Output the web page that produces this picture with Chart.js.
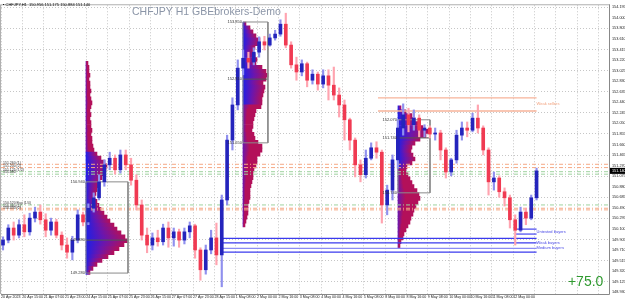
<!DOCTYPE html>
<html lang="en">
<head>
<meta charset="UTF-8">
<title>CHFJPY H1</title>
<script src="https://cdn.jsdelivr.net/npm/chart.js"></script>
<style>
  html, body { margin: 0; padding: 0; background: #fff; }
  #wrap { position: relative; width: 625px; height: 301px; }
  #wrap canvas { position: absolute; left: 0; top: 0; }
</style>
</head>
<body>
<div id="wrap">
  <canvas id="profileChart" width="625" height="301"></canvas>
  <canvas id="priceChart" width="625" height="301"></canvas>
</div>
<script>
  // ---- axis labels ----
  const xTickLabels = ['20 Apr 2023', '20 Apr 15:00', '21 Apr 07:00', '21 Apr 23:00', '24 Apr 15:00', '25 Apr 07:00',
    '25 Apr 23:00', '26 Apr 15:00', '27 Apr 07:00', '27 Apr 23:00', '28 Apr 15:00', '1 May 08:00', '2 May 00:00',
    '2 May 16:00', '3 May 08:00', '4 May 00:00', '4 May 16:00', '5 May 08:00', '8 May 00:00', '8 May 16:00',
    '9 May 08:00', '10 May 00:00', '10 May 16:00', '11 May 08:00', '12 May 00:00'];
  const yTickValues = [154.195, 154.000, 153.805, 153.610, 153.415, 153.220, 153.025, 152.830, 152.635, 152.440,
    152.245, 152.050, 151.855, 151.660, 151.465, 151.270, 151.075, 150.880, 150.685, 150.490, 150.295, 150.100,
    149.905, 149.710, 149.515, 149.320, 149.125, 148.930];

  // ---- price candles (each one covers 4 H1 bars) ----
  const opens = [149.79, 149.88, 150.10, 149.97, 150.16, 150.03, 150.28, 150.39, 150.25, 150.06,
    150.21, 149.97, 149.79, 149.66, 149.88, 150.34, 150.21, 150.46, 150.65, 150.94,
    151.25, 151.37, 151.16, 151.43, 151.25, 150.97, 150.52, 149.97, 149.79, 149.92,
    149.85, 150.10, 149.92, 150.03, 149.88, 150.03, 150.14, 149.70, 149.34, 149.70,
    149.92, 149.61, 150.61, 151.70, 152.34, 153.01, 153.19, 153.12, 153.30, 153.49,
    153.43, 153.56, 153.63, 153.81, 153.43, 153.07, 152.94, 153.09, 152.79, 152.90,
    152.72, 152.87, 152.70, 152.52, 152.34, 152.07, 151.70, 151.25, 151.07, 151.37,
    151.56, 151.48, 150.52, 150.79, 151.34, 151.92, 152.16, 151.98, 152.10, 151.88,
    151.92, 151.81, 151.83, 151.52, 151.12, 151.34, 151.79, 151.92, 151.88, 152.10,
    151.92, 151.52, 150.94, 151.01, 150.76, 150.65, 150.25, 150.06, 150.39, 150.28, 150.65];
  const highs = [149.94, 150.16, 150.21, 150.25, 150.34, 150.37, 150.48, 150.52, 150.36, 150.28,
    150.26, 150.03, 149.92, 149.95, 150.43, 150.39, 150.54, 150.74, 151.07, 151.34,
    151.48, 151.43, 151.52, 151.52, 151.37, 151.07, 150.61, 150.10, 150.01, 150.06,
    150.17, 150.21, 150.10, 150.08, 150.10, 150.21, 150.17, 149.74, 149.79, 150.06,
    150.19, 150.70, 151.79, 152.47, 153.16, 153.34, 153.30, 153.38, 153.58, 153.59,
    153.63, 153.70, 153.89, 154.01, 153.49, 153.21, 153.16, 153.12, 152.98, 152.94,
    152.98, 152.98, 153.03, 152.65, 152.43, 152.10, 151.74, 151.34, 151.52, 151.65,
    151.67, 151.52, 150.88, 151.43, 152.07, 152.36, 152.28, 152.25, 152.16, 151.98,
    151.96, 151.92, 151.88, 151.56, 151.37, 151.88, 152.03, 152.03, 152.19, 152.34,
    151.96, 151.56, 151.12, 151.05, 150.83, 150.70, 150.34, 150.48, 150.46, 150.70, 151.19];
  const lows = [149.70, 149.83, 149.88, 149.92, 149.94, 149.97, 150.21, 150.17, 149.94, 149.97,
    149.92, 149.70, 149.55, 149.52, 149.83, 150.14, 150.16, 150.39, 150.61, 150.86,
    151.16, 151.08, 151.10, 151.16, 150.88, 150.43, 149.88, 149.65, 149.70, 149.77,
    149.79, 149.75, 149.77, 149.75, 149.81, 149.92, 149.55, 149.15, 149.26, 149.63,
    149.43, 149.03, 150.52, 151.52, 152.25, 152.89, 153.01, 153.07, 153.21, 153.34,
    153.41, 153.52, 153.59, 153.38, 153.01, 152.79, 152.87, 152.67, 152.72, 152.61,
    152.65, 152.43, 152.43, 152.12, 151.70, 151.52, 151.03, 150.94, 151.01, 151.34,
    151.37, 150.19, 150.34, 150.61, 151.19, 151.79, 151.85, 151.88, 151.76, 151.76,
    151.74, 151.70, 151.34, 151.01, 151.05, 151.28, 151.70, 151.76, 151.85, 151.83,
    151.43, 150.70, 150.79, 150.66, 150.50, 150.10, 149.79, 150.03, 150.16, 150.25, 150.61];
  const closes = [149.88, 150.10, 149.97, 150.16, 150.03, 150.28, 150.39, 150.25, 150.06, 150.21,
    149.97, 149.79, 149.66, 149.88, 150.34, 150.21, 150.46, 150.65, 150.94, 151.25,
    151.37, 151.16, 151.43, 151.25, 150.97, 150.52, 149.97, 149.79, 149.92, 149.85,
    150.10, 149.92, 150.03, 149.88, 150.03, 150.14, 149.70, 149.34, 149.70, 149.92,
    149.61, 150.61, 151.70, 152.34, 153.01, 153.19, 153.12, 153.30, 153.49, 153.43,
    153.56, 153.63, 153.81, 153.43, 153.07, 152.94, 153.09, 152.79, 152.90, 152.72,
    152.87, 152.70, 152.52, 152.34, 152.07, 151.70, 151.25, 151.07, 151.37, 151.56,
    151.48, 150.52, 150.79, 151.34, 151.92, 152.16, 151.98, 152.10, 151.88, 151.92,
    151.81, 151.83, 151.52, 151.12, 151.34, 151.79, 151.92, 151.88, 152.10, 151.92,
    151.52, 150.94, 151.01, 150.76, 150.65, 150.25, 150.06, 150.39, 150.28, 150.65, 151.14];

  // ---- volume profiles: row widths (px), top row price, start bar ----
  const prof1Vol = [2, 3, 3, 4, 3, 4, 4, 5, 4, 5, 6, 5, 4, 5, 4, 5, 5, 6, 5, 6, 6, 7, 8, 11, 15, 19, 21, 20, 17, 16,
    14, 12, 11, 10, 9, 11, 13, 15, 18, 21, 24, 28, 31, 35, 39, 42, 38, 33, 28, 22, 16, 11, 7, 4];
  const prof2Vol = [3, 7, 10, 13, 17, 16, 12, 10, 12, 14, 13, 19, 23, 25, 23, 20, 22, 21, 20, 19, 19, 18, 13, 12, 11,
    10, 10, 9, 11, 12, 15, 19, 19, 17, 14, 14, 13, 11, 10, 10, 9, 8, 7, 7, 7, 6, 5, 5, 5, 4, 3, 2];
  const prof3Vol = [3, 8, 14, 17, 22, 25, 30, 28, 22, 17, 14, 13, 15, 17, 14, 9, 8, 10, 12, 14, 16, 19, 21, 22, 20,
    18, 16, 15, 13, 12, 10, 8, 6, 5, 3, 2];
  const profTops = [153.158, 153.886, 152.339];
  const profBases = [63.7, 181.4, 297.6];
  const profSplit = [151.50, 152.38, 151.22];     // buyers/sellers boundary
  const profUpperBuy = [false, true, true];
  const rowStep = 0.0728;

  // value area boxes
  const boxRight = [95.2, 200.1, 321.6];
  const boxTop = [150.94, 153.85, 152.07];
  const boxBottom = [149.28, 151.65, 150.74];
  const boxPoc = [149.88, 152.81, 151.74];

  // ---- level lines ----
  const levelPrices = [151.26, 151.20, 151.125, 151.08, 150.52, 150.46, 150.43];
  const levelSide = ['sell', 'sell', 'buy', 'buy', 'buy', 'sell', 'sell'];
  const levelTags = ['(1)', '(2)', '(1/2)', '', 'Buy (1/4)', '(1)', '(2)'];
  const sellerZone = [152.47, 152.23];
  const untestedBuyers = [150.08, 149.99];
  const buyerZone = [149.91, 149.83, 149.73, 149.66];

  const xMax = 455.8, yMin = 148.899, yMax = 154.232;
  const pxPerBar = 1.334;
  const lastBar = 401.5;
  const blue = '#1f1fe6', purple = '#6a16ae', crimson = '#b3105a';
  const font = '"Liberation Sans", Arial, sans-serif';

  // frame around the plot
  const framePlugin = {
    id: 'frame',
    afterDraw(chart) {
      const { ctx, chartArea: a } = chart;
      ctx.save();
      ctx.lineWidth = 1;
      ctx.strokeStyle = '#b0b0b0';
      ctx.beginPath();
      ctx.moveTo(a.left - 0.5, a.bottom); ctx.lineTo(a.left - 0.5, a.top - 0.5); ctx.lineTo(a.right, a.top - 0.5);
      ctx.stroke();
      ctx.strokeStyle = '#888';
      ctx.beginPath();
      ctx.moveTo(a.left, a.bottom + 0.5); ctx.lineTo(a.right + 0.5, a.bottom + 0.5); ctx.lineTo(a.right + 0.5, a.top - 1);
      ctx.stroke();
      ctx.restore();
    }
  };

  function rowColor(c, p) {
    const chart = c.chart;
    const raw = c.raw;
    if (!chart.chartArea || !raw) return crimson;
    const xs = chart.scales.x;
    const x0 = xs.getPixelForValue(raw.x[0]);
    const x1 = Math.max(xs.getPixelForValue(raw.x[1]), x0 + 1);
    const buy = (raw.y > profSplit[p]) === profUpperBuy[p];
    const g = chart.ctx.createLinearGradient(x0, 0, x1, 0);
    if (buy) {
      g.addColorStop(0, blue); g.addColorStop(0.45, purple); g.addColorStop(1, crimson);
    } else {
      g.addColorStop(0, purple); g.addColorStop(0.35, crimson); g.addColorStop(1, crimson);
    }
    return g;
  }

  const vols = [prof1Vol, prof2Vol, prof3Vol];
  const profileSets = vols.map((vol, p) => ({
    data: vol.map((w, i) => ({ x: [profBases[p], profBases[p] + w / pxPerBar], y: profTops[p] - i * rowStep })),
    backgroundColor: c => rowColor(c, p),
    barThickness: 4,
    grouped: false,
    borderWidth: 0
  }));

  // bottom layer: grid, axes and volume profiles
  new Chart(document.getElementById('profileChart'), {
    type: 'bar',
    data: { datasets: profileSets },
    options: {
      indexAxis: 'y',
      responsive: false,
      animation: false,
      layout: { padding: { left: 1, top: 1, right: 0, bottom: 0 } },
      plugins: { legend: { display: false }, tooltip: { enabled: false } },
      scales: {
        x: {
          type: 'linear', position: 'bottom', min: 0, max: xMax, offset: false,
          afterFit: s => { s.height = 7; },
          afterBuildTicks: s => { s.ticks = Array.from({ length: 29 }, (_, i) => ({ value: i * 16 })); },
          ticks: {
            autoSkip: false, maxRotation: 0, align: 'start', padding: 1, color: '#222',
            font: { size: 3.6, family: font },
            callback: (v, i) => xTickLabels[i] || ''
          },
          grid: { color: '#c6c6c6', drawTicks: false, offset: false },
          border: { display: false, dash: [1, 2] }
        },
        y: {
          type: 'linear', position: 'right', min: yMin, max: yMax, offset: false,
          afterFit: s => { s.width = 16; },
          afterBuildTicks: s => { s.ticks = yTickValues.map(v => ({ value: v })); },
          ticks: {
            autoSkip: false, padding: 3, color: '#222',
            font: { size: 3.8, family: font },
            callback: v => v.toFixed(3)
          },
          grid: { color: c => (c.index % 2 === 0 ? '#c6c6c6' : 'rgba(0,0,0,0)'), drawTicks: false, offset: false },
          border: { display: false, dash: [1, 2] }
        }
      }
    },
    plugins: [framePlugin]
  });

  // ---- top layer: candles, lines, labels ----
  function hline(price, x0, x1, color, dash, width, order) {
    return {
      type: 'line', data: [{ x: x0, y: price }, { x: x1, y: price }],
      borderColor: color, borderWidth: width, borderDash: dash, pointRadius: 0, fill: false, order
    };
  }

  const candleBars = opens.map((o, i) => 4 * i + 1.5);
  const up = closes.map((c, i) => c >= opens[i]);

  const priceSets = [
    {
      type: 'bar', order: 2, grouped: false, barThickness: 1.5,
      data: candleBars.map((x, i) => ({ x, y: [lows[i], highs[i]] })),
      backgroundColor: up.map(u => (u ? '#9090ee' : '#ffa4b0'))
    },
    {
      type: 'bar', order: 1, grouped: false, barThickness: 3,
      data: candleBars.map((x, i) => ({ x, y: [opens[i], closes[i]] })),
      backgroundColor: up.map(u => (u ? '#2424bc' : '#f03a52'))
    }
  ];

  levelPrices.forEach((p, i) => {
    const col = levelSide[i] === 'buy' ? '#9fd29f' : '#f5a985';
    priceSets.push(hline(p, 0, xMax, col, [4, 2, 1, 2], 1, 6));
  });
  sellerZone.forEach(p => priceSets.push(hline(p, 282.6, lastBar, '#f7b39a', [], 1.3, 5)));
  untestedBuyers.forEach(p => priceSets.push(hline(p, 385.3, lastBar, '#4444ee', [], 1.2, 5)));
  buyerZone.forEach((p, i) => priceSets.push(hline(p, 165.7, lastBar, i === 2 ? '#8c8cf4' : '#3a3aee', [], 1.2, 5)));

  profBases.forEach((b, i) => {
    priceSets.push({
      type: 'line', order: 4, pointRadius: 0, fill: false, borderColor: '#8a8a8a', borderWidth: 1,
      data: [{ x: b, y: boxTop[i] }, { x: boxRight[i], y: boxTop[i] }, { x: boxRight[i], y: boxBottom[i] },
        { x: b, y: boxBottom[i] }, { x: b, y: boxTop[i] }]
    });
    priceSets.push(hline(boxPoc[i], b, boxRight[i], '#555', [], 1, 4));
  });

  const small = '4px ' + font;
  const notes = [
    { text: '\u25AA CHFJPY,H1  150.956 151.175 150.884 151.140', bar: 1.5, price: 154.16, font: small, color: '#000' },
    { text: 'CHFJPY H1 GBEbrokers-Demo', bar: 98.2, price: 154.03, font: '10.5px ' + font, color: '#8b95a7' },
    { text: 'Weak sellers', bar: 401.5, price: 152.36, font: small, color: '#f2a07c' },
    { text: 'Untested buyers', bar: 401.5, price: 150.03, font: small, color: '#4646e6' },
    { text: 'Weak buyers', bar: 401.5, price: 149.83, font: small, color: '#4646e6' },
    { text: 'Medium buyers', bar: 401.5, price: 149.74, font: small, color: '#4646e6' },
    { text: '+75.0', bar: 425, price: 149.04, font: '14px ' + font, color: '#2f9a2f', base: 'alphabetic' }
  ];
  levelPrices.forEach((p, i) => {
    notes.push({ text: p.toFixed(3) + ' ' + levelTags[i], bar: 1.5, price: p, font: '3.5px ' + font, color: '#333', base: 'bottom' });
  });
  profBases.forEach((b, i) => {
    [boxTop[i], boxPoc[i], boxBottom[i]].forEach(p => {
      notes.push({ text: p.toFixed(3), bar: b - 0.8, price: p, font: small, color: '#333', align: 'right' });
    });
  });

  const notesPlugin = {
    id: 'notes',
    afterDatasetsDraw(chart) {
      const { ctx, chartArea: a } = chart;
      const xs = chart.scales.x, ys = chart.scales.y;
      ctx.save();
      notes.forEach(n => {
        ctx.font = n.font;
        ctx.fillStyle = n.color;
        ctx.textAlign = n.align || 'left';
        ctx.textBaseline = n.base || 'middle';
        ctx.fillText(n.text, xs.getPixelForValue(n.bar), ys.getPixelForValue(n.price));
      });
      // last price marker on the price scale
      const last = closes[closes.length - 1];
      const py = ys.getPixelForValue(last);
      ctx.fillStyle = '#000';
      ctx.fillRect(a.right + 1, py - 3, 16, 6);
      ctx.fillStyle = '#fff';
      ctx.font = '3.8px ' + font;
      ctx.textAlign = 'left';
      ctx.textBaseline = 'middle';
      ctx.fillText(last.toFixed(3), a.right + 3, py);
      ctx.restore();
    }
  };

  new Chart(document.getElementById('priceChart'), {
    type: 'bar',
    data: { datasets: priceSets },
    options: {
      responsive: false,
      animation: false,
      layout: { padding: { left: 1, top: 1, right: 16, bottom: 7 } },
      plugins: { legend: { display: false }, tooltip: { enabled: false } },
      scales: {
        x: { type: 'linear', display: false, min: 0, max: xMax, offset: false },
        y: { type: 'linear', display: false, min: yMin, max: yMax }
      }
    },
    plugins: [notesPlugin]
  });
</script>
</body>
</html>
